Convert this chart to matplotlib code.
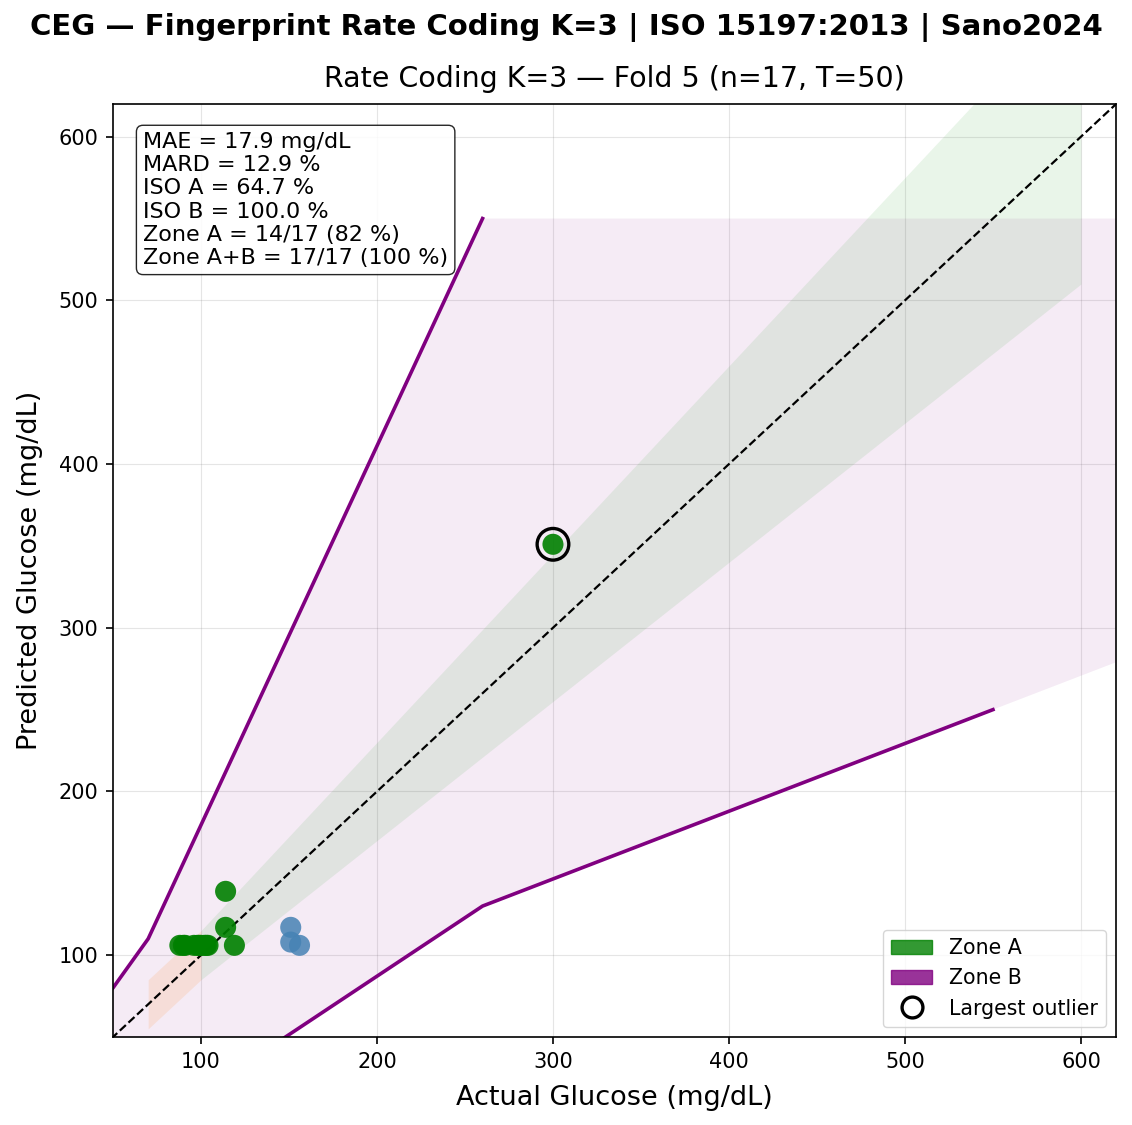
import matplotlib
matplotlib.use("Agg")
import matplotlib.pyplot as plt
from matplotlib.patches import Patch
from matplotlib.lines import Line2D
import numpy as np

# measured points (mg/dL)
zone_a_actual = [88, 90, 91, 96, 98, 99, 100, 102, 103, 104, 119, 114, 114, 300]
zone_a_pred = [106, 106, 106, 106, 106, 106, 106, 106, 106, 106, 106, 117, 139, 351]
zone_b_actual = [151, 151, 156]
zone_b_pred = [117, 108, 106]
outlier = (300, 351)

# Parkes (type 1) zone B boundaries
b_upper_x = [0, 30, 50, 70, 260]
b_upper_y = [60, 60, 80, 110, 550]
b_lower_x = [120, 120, 260, 550]
b_lower_y = [0, 30, 130, 250]

stats_lines = [
    "MAE = 17.9 mg/dL",
    "MARD = 12.9 %",
    "ISO A = 64.7 %",
    "ISO B = 100.0 %",
    "Zone A = 14/17 (82 %)",
    "Zone A+B = 17/17 (100 %)",
]

fig = plt.figure(figsize=(11.32, 11.25), dpi=100)
ax = fig.add_axes([0.0998, 0.0782, 0.8862, 0.8294])

# zone B shaded region
xs = np.linspace(0, 700, 701)
up = np.interp(xs, b_upper_x, b_upper_y)
slope = (b_lower_y[-1] - b_lower_y[-2]) / (b_lower_x[-1] - b_lower_x[-2])
lo = np.interp(xs, b_lower_x, b_lower_y)
lo = np.where(xs > b_lower_x[-1], b_lower_y[-1] + slope * (xs - b_lower_x[-1]), lo)
lo = np.where(xs < b_lower_x[0], 0, lo)
ax.fill_between(xs, lo, up, color="purple", alpha=0.08, linewidth=0)

# ISO 15197 bands
xa = np.linspace(100, 600, 200)
ax.fill_between(xa, xa * 0.85, xa * 1.15, color="tab:green", alpha=0.1, linewidth=0)
xl = np.linspace(70, 100, 50)
ax.fill_between(xl, xl - 15, xl + 15, color="tab:orange", alpha=0.12, linewidth=0)

ax.plot(b_upper_x, b_upper_y, color="purple", lw=2.6)
ax.plot(b_lower_x, b_lower_y, color="purple", lw=2.6)
ax.plot([0, 700], [0, 700], "k--", lw=1.6)

ax.scatter(zone_a_actual, zone_a_pred, s=230, color="green", alpha=0.9, zorder=3, edgecolors="none")
ax.scatter(zone_b_actual, zone_b_pred, s=230, color="steelblue", alpha=0.85, zorder=3, edgecolors="none")
ax.scatter([outlier[0]], [outlier[1]], s=520, facecolors="none", edgecolors="black", lw=2.4, zorder=4)

ax.set_xlim(50, 620)
ax.set_ylim(50, 620)
ax.set_xticks([100, 200, 300, 400, 500, 600])
ax.set_yticks([100, 200, 300, 400, 500, 600])
ax.tick_params(labelsize=15, length=5.25, pad=5.25, width=1.2)
for sp in ax.spines.values():
    sp.set_linewidth(1.2)
ax.grid(True, color="gray", alpha=0.2)
ax.set_axisbelow(True)
ax.set_xlabel("Actual Glucose (mg/dL)", fontsize=19.5, labelpad=10)
ax.set_ylabel("Predicted Glucose (mg/dL)", fontsize=19.5, labelpad=11)
ax.set_title("Rate Coding K=3 — Fold 5 (n=17, T=50)", fontsize=20.5, pad=12)
fig.suptitle("CEG — Fingerprint Rate Coding K=3 | ISO 15197:2013 | Sano2024",
             fontsize=21, fontweight="bold", y=0.988)

ax.text(0.03, 0.97, "\n".join(stats_lines), transform=ax.transAxes, va="top", ha="left",
        fontsize=16,
        bbox=dict(boxstyle="round,pad=0.3", facecolor="white", edgecolor="black", alpha=0.85))

handles = [
    Patch(color="green", alpha=0.8, label="Zone A"),
    Patch(color="purple", alpha=0.8, label="Zone B"),
    Line2D([], [], marker="o", ls="none", markerfacecolor="none", markeredgecolor="black",
           markersize=15, markeredgewidth=2.4, label="Largest outlier"),
]
ax.legend(handles=handles, loc="lower right", fontsize=14.8)

fig.savefig("out.png", dpi=100)
